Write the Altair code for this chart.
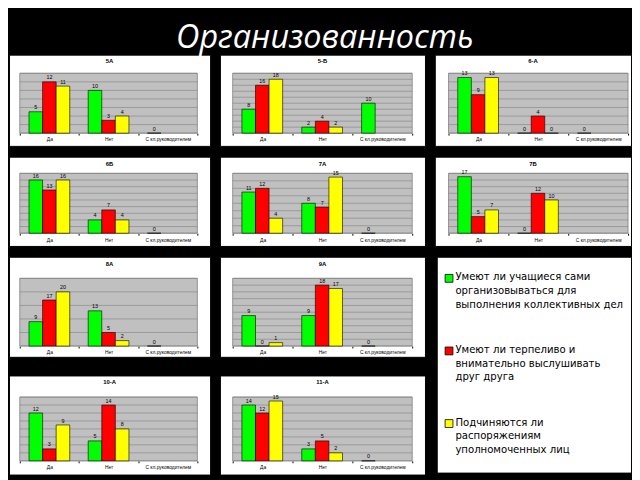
import altair as alt
import pandas as pd

CLASSES = ["5А", "5-Б", "6-А", "6Б", "7А", "7Б", "8А", "9А", "10-А", "11-А"]
CATEGORIES = ["Да", "Нет", "С кл.руководителем"]
SERIES = [
    "Умеют ли учащиеся сами организовываться для выполнения коллективных дел",
    "Умеют ли терпеливо и внимательно выслушивать друг друга",
    "Подчиняются ли распоряжениям уполномоченных лиц",
]
LEGEND_LINES = [
    "Умеют ли учащиеся сами\nорганизовываться для\nвыполнения коллективных дел",
    "Умеют ли терпеливо и\nвнимательно выслушивать\nдруг друга",
    "Подчиняются ли\nраспоряжениям\nуполномоченных лиц",
]
COLORS = ["#00ff00", "#ff0000", "#ffff00"]

# values per class: [Да, Нет, С кл.руководителем]
GREEN = [[5, 10, 0], [8, 2, 10], [13, 0, 0], [16, 4, 0], [11, 8, 0],
         [17, 0, None], [9, 13, 0], [9, 9, 0], [12, 5, None], [14, 3, 0]]
RED = [[12, 3, None], [16, 4, None], [9, 4, None], [13, 7, None], [12, 7, None],
       [5, 12, None], [17, 5, None], [0, 18, None], [3, 14, None], [12, 5, None]]
YELLOW = [[11, 4, None], [18, 2, None], [13, 0, None], [16, 4, None], [4, 15, None],
          [7, 10, None], [20, 2, None], [1, 17, None], [9, 8, None], [15, 2, None]]
Y_MAX = [14, 20, 14, 18, 16, 18, 25, 20, 16, 16]
Y_STEP = [2, 2, 2, 2, 2, 2, 5, 2, 2, 2]

# layout (width, left margin, right margin) per column; (height, top, bottom) per row
COLS = [(205, 11, 13), (209, 13, 13), (200, 14, 3)]
ROWS = [(93, 19, 13), (91, 17, 13), (102, 22, 11), (101, 22, 14)]
FONT = "Liberation Sans"


def panel(i, r, c):
    W, ml, mr = COLS[c]
    H, mt, mb = ROWS[r]
    ymax, ystep = Y_MAX[i], Y_STEP[i]
    rows = []
    for s, vals in zip(SERIES, (GREEN[i], RED[i], YELLOW[i])):
        for cat, v in zip(CATEGORIES, vals):
            if v is not None:
                rows.append({"cat": cat, "series": s, "value": v})
    df = pd.DataFrame(rows)
    pw = W - ml - mr
    ph = H - mt - mb
    step = pw / 3
    u = ymax / ph
    yscale = alt.Scale(domain=[-mb * u, ymax + mt * u], nice=False, zero=False)
    xq = alt.Scale(domain=[-ml / step, 3 + mr / step], nice=False, zero=False)
    ticks = list(range(0, ymax + 1, ystep))
    frame = pd.DataFrame({"x0": [0], "x1": [3], "y0": [0], "y1": [ymax]})
    grid = pd.DataFrame({"x0": 0, "x1": 3, "t": ticks})

    bg = alt.Chart(frame).mark_rect(fill="#c0c0c0", stroke="#808080", strokeWidth=0.8).encode(
        x=alt.X("x0:Q", scale=xq, axis=None), x2="x1",
        y=alt.Y("y0:Q", scale=yscale, axis=None), y2="y1")
    gl = alt.Chart(grid).mark_rule(color="#808080", strokeWidth=0.6).encode(
        x=alt.X("x0:Q", scale=xq, axis=None), x2="x1",
        y=alt.Y("t:Q", scale=yscale, axis=None))

    xband = alt.Scale(domain=CATEGORIES, paddingInner=0,
                      paddingOuter=(ml + mr) / (2 * step), align=ml / (ml + mr))
    xaxis = alt.Axis(offset=-mb, domain=False, ticks=True, tickBand="extent", tickSize=2,
                     tickColor="#000000", labelFontSize=5, labelFont=FONT, labelColor="#000000",
                     labelPadding=2, labelAngle=0, title=None)
    yaxis = alt.Axis(values=ticks, offset=-ml, domain=False, grid=False, ticks=True, tickSize=2,
                     tickColor="#000000", labelFontSize=5, labelFont=FONT, labelColor="#000000",
                     labelPadding=1, title=None)
    base = alt.Chart(df).encode(
        x=alt.X("cat:N", scale=xband, sort=CATEGORIES, axis=xaxis),
        xOffset=alt.XOffset("series:N", sort=SERIES,
                            scale=alt.Scale(domain=SERIES, paddingInner=0, paddingOuter=0.68)),
        y=alt.Y("value:Q", scale=yscale, axis=yaxis),
    )
    bars = base.mark_bar(stroke="black", strokeWidth=0.6).encode(
        y2=alt.datum(0),
        color=alt.Color("series:N", scale=alt.Scale(domain=SERIES, range=COLORS), legend=None))
    labels = base.mark_text(fontSize=5.5, baseline="bottom", dy=-1.5, font=FONT,
                            color="black").encode(text="value:Q")
    inner = alt.layer(bars, labels)
    return alt.layer(bg, gl, inner).resolve_scale(x="independent").properties(
        width=W, height=H,
        title=alt.TitleParams(CLASSES[i], fontSize=6, fontWeight="bold", font=FONT,
                              color="black", offset=-10, anchor="middle"))


leg_df = pd.DataFrame({"series": SERIES, "label": LEGEND_LINES})
leg_y = alt.Y("series:N", sort=SERIES, axis=None,
              scale=alt.Scale(type="point", domain=SERIES, padding=0.4865, align=0.3056))
sq = alt.Chart(leg_df).mark_square(size=64, filled=True, opacity=1, stroke="black",
                                   strokeWidth=0.8).encode(
    x=alt.value(12.5), y=leg_y,
    color=alt.Color("series:N", scale=alt.Scale(domain=SERIES, range=COLORS), legend=None))
tx = alt.Chart(leg_df).mark_text(align="left", baseline="top", lineBreak="\n", fontSize=10.3,
                                 lineHeight=14, dy=-6, font="DejaVu Sans", color="black",
                                 clip=True).encode(x=alt.value(19), y=leg_y, text="label:N")
legend = alt.layer(sq, tx).properties(width=198, height=220)

row1 = alt.hconcat(panel(0, 0, 0), panel(1, 0, 1), panel(2, 0, 2), spacing=8)
row2 = alt.hconcat(panel(3, 1, 0), panel(4, 1, 1), panel(5, 1, 2), spacing=8)
left = alt.vconcat(alt.hconcat(panel(6, 2, 0), panel(7, 2, 1), spacing=8),
                   alt.hconcat(panel(8, 3, 0), panel(9, 3, 1), spacing=8), spacing=17)
bottom = alt.hconcat(left, legend, spacing=10)

chart = alt.vconcat(row1, row2, bottom, spacing=9).properties(
    title=alt.TitleParams("Организованность", fontSize=33, font="Open Sans", fontStyle="italic",
                          fontWeight="normal", color="white", anchor="middle", offset=-27,
                          baseline="alphabetic", dx=5),
    background="black",
    padding={"left": 0, "top": 10, "right": 0, "bottom": 0},
).configure_view(fill="white", stroke="black", strokeWidth=1)

chart.save("out.html", embed_options={"renderer": "svg", "actions": False})
